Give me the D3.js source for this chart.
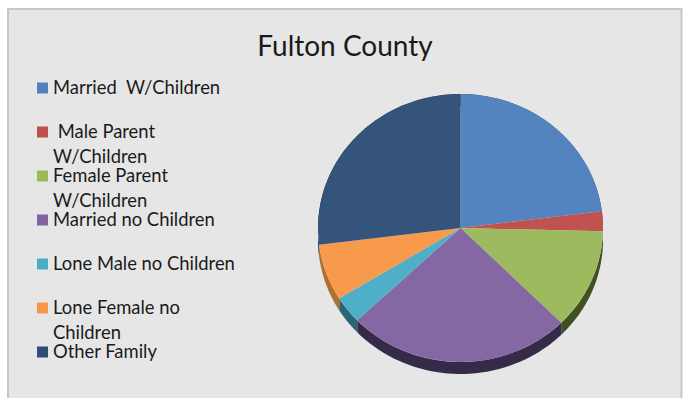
<!DOCTYPE html>
<html><head><meta charset="utf-8">
<script src="https://cdn.jsdelivr.net/npm/d3@7/dist/d3.min.js"></script>
<style>html,body{margin:0;padding:0;background:#fff}svg{display:block}text{font-family:Lato,"Open Sans",sans-serif;fill:#1a1a1a}</style>
</head><body><svg id="c" width="684" height="398"></svg>
<script>
const categories=["Married  W/Children"," Male Parent W/Children","Female Parent W/Children","Married no Children","Lone Male no Children","Lone Female no Children","Other Family"];
const legendLines=[["Married\u00A0 W/Children"],["\u00A0Male Parent","W/Children"],["Female Parent","W/Children"],["Married no Children"],["Lone Male no Children"],["Lone Female no","Children"],["Other Family"]];
const values=[23,2.4,12.1,25.4,3.3,6.8,27];
const topColors=["#5484bf","#c0534f","#9dba5e","#8467a3","#4fafc8","#f89a4c","#34547c"];
const swatchColors=["#4f81bd","#c0504d","#9bbb59","#8064a2","#4bacc6","#f79646","#2c4d75"];
const sideColors=["#2f4a6b","#6f2e2c","#414f23","#352a47","#2a6676","#b0702f","#1c2f48"];
const title="Fulton County";

const svg=d3.select("#c");
svg.append("rect").attr("x",8).attr("y",9).attr("width",673.5).attr("height",400)
  .attr("fill","#e6e6e6").attr("stroke","#c8c8c8").attr("stroke-width",2);
svg.append("text").attr("x",345).attr("y",56).attr("text-anchor","middle").attr("font-size",28).text(title);

const rowY=d3.scalePoint().domain(d3.range(categories.length)).range([88,352]);
const legend=svg.append("g").selectAll("g").data(legendLines).join("g")
  .attr("transform",(d,i)=>`translate(37,${rowY(i)})`);
legend.append("rect").attr("x",0).attr("y",-5.5).attr("width",11).attr("height",11).attr("fill",(d,i)=>swatchColors[i]);
legend.each(function(lines){
  d3.select(this).selectAll("text").data(lines).join("text")
    .attr("x",16).attr("y",(d,j)=>6+j*24.7).attr("font-size",18.4).text(d=>d);
});

const rx=142.5, ry=134, cx=460.5, cy=228, depth=12;
const pie=d3.pie().sort(null).value(d=>d);
const arc=d3.arc().innerRadius(0).outerRadius(rx);
const arcs=pie(values);
// outer wall of each slice: the rim of the ellipse, extruded straight down
const rimX=a=>cx+rx*Math.sin(a), rimY=a=>cy-ry*Math.cos(a);
const wall=d=>{
  const as=d3.range(0,41).map(k=>d.startAngle+(d.endAngle-d.startAngle)*k/40);
  const pts=as.map(a=>[rimX(a),rimY(a)]).concat(as.slice().reverse().map(a=>[rimX(a),rimY(a)+depth]));
  return d3.line()(pts)+"Z";
};
svg.append("g").selectAll("path").data(arcs).join("path").attr("d",wall).attr("fill",(d,i)=>sideColors[i]);
const face=svg.append("g").attr("transform",`translate(${cx},${cy}) scale(1,${ry/rx})`);
face.selectAll("path").data(arcs).join("path").attr("d",arc).attr("fill",(d,i)=>topColors[i]);
</script></body></html>
